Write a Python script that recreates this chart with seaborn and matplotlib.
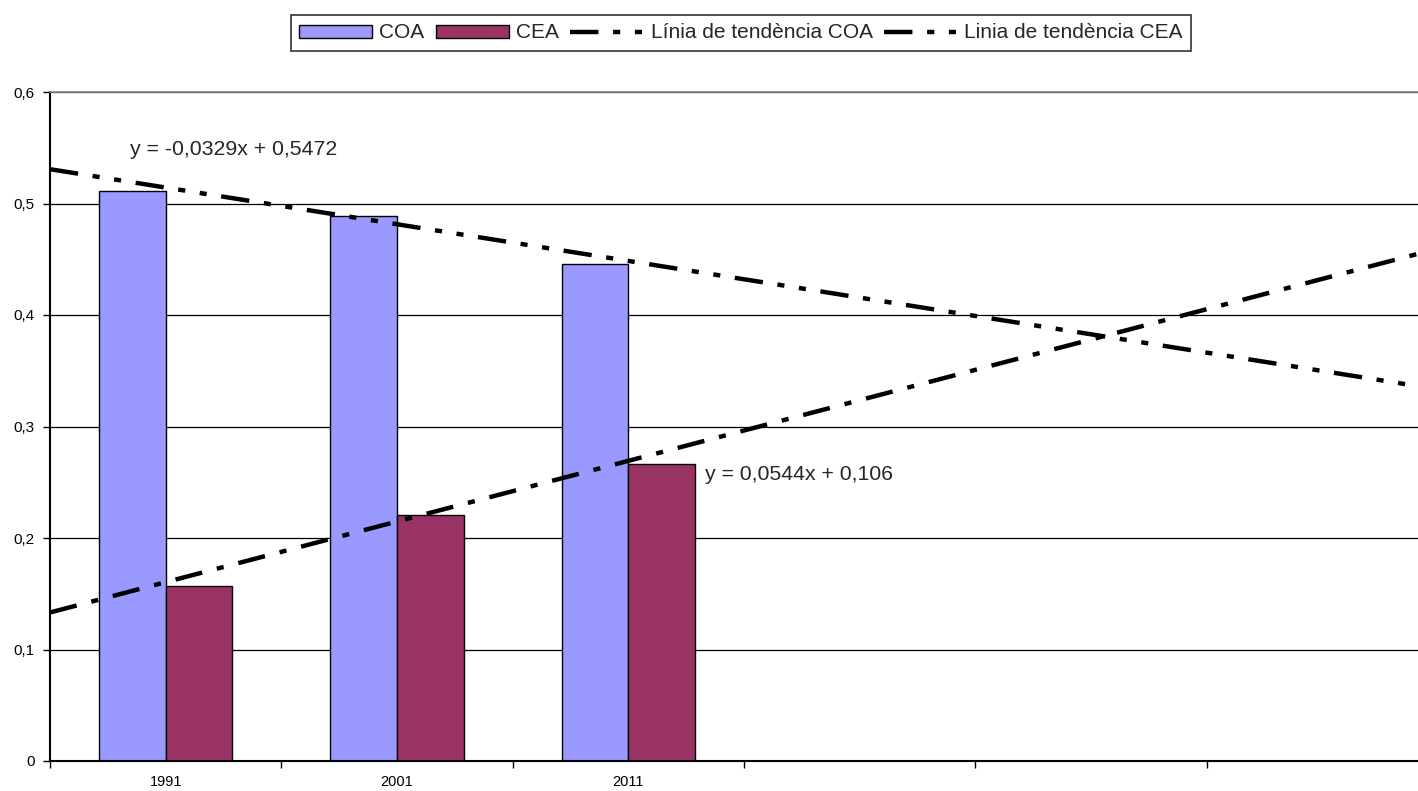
import numpy as np
import pandas as pd
import seaborn as sns
import matplotlib.pyplot as plt
from matplotlib.patches import Patch
from matplotlib.lines import Line2D

# data
years = ['1991', '2001', '2011']
coa = [0.511, 0.489, 0.446]
cea = [0.157, 0.221, 0.266]

# trendline coefficients (from the equation labels), x = 1, 2, 3 ...
coa_slope, coa_int = -0.0329, 0.5472
cea_slope, cea_int = 0.0544, 0.106
coa_label = 'y = -0,0329x + 0,5472'
cea_label = 'y = 0,0544x + 0,106'

n_cats = 6
yticks = [0, 0.1, 0.2, 0.3, 0.4, 0.5, 0.6]
ytick_labels = ['0', '0,1', '0,2', '0,3', '0,4', '0,5', '0,6']

df = pd.DataFrame({'any': years * 2,
                   'valor': coa + cea,
                   'serie': ['COA'] * 3 + ['CEA'] * 3})

sns.set_style('white')
plt.rcParams['font.family'] = ['Liberation Sans', 'DejaVu Sans']

col_coa = '#9999FF'
col_cea = '#993366'
lw_trend = 3.2
style_coa = (0, (6.4, 3.3, 1.6, 3.3, 1.6, 3.3))
style_cea = (0, (6.2, 3.4, 1.6, 3.4))

fig = plt.figure(figsize=(14.18, 7.91), dpi=100)
ax = fig.add_axes([50 / 1418, 1 - 761 / 791, 1388 / 1418, 669 / 791])

sns.barplot(data=df, x='any', y='valor', hue='serie', order=years,
            palette={'COA': col_coa, 'CEA': col_cea}, width=0.576,
            edgecolor='black', linewidth=1.0, saturation=1, ax=ax,
            legend=False, zorder=2)

# trendlines over all categories
xs = np.array([-0.5, n_cats - 0.5])
ax.plot(xs, coa_slope * (xs + 1) + coa_int, color='black', lw=lw_trend,
        linestyle=style_coa, zorder=4)
ax.plot(xs, cea_slope * (xs + 1) + cea_int, color='black', lw=lw_trend,
        linestyle=style_cea, zorder=4)

ax.text(-0.154, 0.548, coa_label, fontsize=15.3, va='center', ha='left')
ax.text(2.332, 0.257, cea_label, fontsize=15.3, va='center', ha='left')

ax.set_xlim(-0.5, n_cats - 0.5)
ax.set_ylim(0, 0.6)
ax.set_yticks(yticks)
ax.set_yticklabels(ytick_labels)
ax.set_xticks(np.arange(-0.5, n_cats, 1.0))
ax.set_xticklabels([])
ax.set_xticks(range(len(years)), minor=True)
ax.set_xticklabels(years, minor=True)
ax.tick_params(axis='x', which='major', direction='out', length=5, width=1, color='black', bottom=True)
ax.tick_params(axis='x', which='minor', length=0, pad=10, labelsize=10.5, labelcolor='black')
ax.tick_params(axis='y', direction='out', length=5, width=1, color='black', left=True,
               pad=6, labelsize=11, labelcolor='black')
ax.set_xlabel('')
ax.set_ylabel('')

ax.set_axisbelow(True)
ax.yaxis.grid(True, color='black', lw=0.9)
for s in ['left', 'bottom']:
    ax.spines[s].set_color('black')
    ax.spines[s].set_linewidth(1.5)
ax.spines['top'].set_color('#888888')
ax.spines['top'].set_linewidth(1.2)
ax.spines['right'].set_visible(False)

handles = [
    Patch(facecolor=col_coa, edgecolor='black', label='COA'),
    Patch(facecolor=col_cea, edgecolor='black', label='CEA'),
    Line2D([], [], color='black', lw=lw_trend, linestyle=style_coa,
           label='Línia de tendència COA'),
    Line2D([], [], color='black', lw=lw_trend, linestyle=style_coa,
           label='Linia de tendència CEA'),
]
leg = fig.legend(handles=handles, loc='center', bbox_to_anchor=(741 / 1418, 1 - 33 / 791),
                 ncol=4, fontsize=15, frameon=True, fancybox=False, shadow=False,
                 handlelength=3.5, handleheight=0.6, handletextpad=0.35,
                 columnspacing=0.55, borderpad=0.4, borderaxespad=0)
leg.get_frame().set_edgecolor('black')
leg.get_frame().set_linewidth(1.2)

fig.savefig('out.png', dpi=100)
